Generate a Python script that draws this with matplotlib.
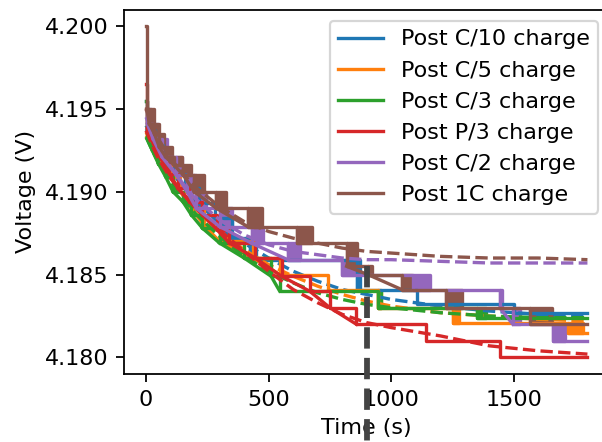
import numpy as np
import matplotlib.pyplot as plt
from matplotlib.ticker import FormatStrFormatter

# rest-period voltage after each charge rate
# step data: time a new voltage level starts (s), the level (V), toggle width (s)
t_end = 1800

c10_t = [0, 4, 35, 70, 110, 160, 215, 280, 350, 422, 862, 1103, 1500]
c10_v = [4.1955, 4.1937, 4.1928, 4.1920, 4.1911, 4.1902, 4.1893, 4.1884,
         4.1872, 4.1859, 4.1841, 4.1832, 4.1827]
c10_w = [0, 0, 0, 0, 0, 0, 0, 0, 0, 28, 10, 0, 0]

c5_t = [0, 4, 30, 60, 100, 140, 185, 235, 300, 435, 545, 742, 945, 1250, 1720]
c5_v = [4.1950, 4.1933, 4.1925, 4.1917, 4.1909, 4.1900, 4.1890, 4.1880,
        4.1870, 4.1860, 4.1850, 4.1841, 4.1830, 4.1821, 4.1815]
c5_w = [0, 0, 0, 0, 0, 0, 0, 0, 0, 0, 0, 0, 15, 25, 60]

c3_t = [0, 4, 25, 50, 80, 110, 150, 185, 230, 300, 400, 510, 545, 945, 1348]
c3_v = [4.1955, 4.1932, 4.1925, 4.1917, 4.1909, 4.1900, 4.1894, 4.1886,
        4.1878, 4.1869, 4.1860, 4.1849, 4.1840, 4.1830, 4.1824]
c3_w = [0, 0, 0, 0, 0, 0, 0, 0, 0, 0, 0, 0, 0, 15, 40]

p3_t = [0, 5, 30, 60, 95, 130, 177, 230, 290, 340, 445, 553, 667, 750, 858,
        1143, 1442]
p3_v = [4.1965, 4.1938, 4.1929, 4.1920, 4.1911, 4.1902, 4.1894, 4.1886,
        4.1877, 4.1869, 4.1860, 4.1849, 4.1840, 4.1830, 4.1820, 4.1810, 4.1800]
p3_w = [0] * 17

c2_t = [0, 5, 28, 65, 124, 168, 205, 300, 430, 578, 798, 1088, 1442, 1496, 1660]
c2_v = [4.1950, 4.1941, 4.1932, 4.1921, 4.1910, 4.1900, 4.1890, 4.1879,
        4.1869, 4.1859, 4.1850, 4.1841, 4.1830, 4.1820, 4.1810]
c2_w = [0, 15, 20, 20, 24, 37, 40, 50, 45, 48, 52, 69, 8, 29, 47]

c1_t = [0, 3, 13, 34, 54, 80, 115, 152, 197, 287, 414, 614, 818, 905, 1042,
        1225, 1565]
c1_v = [4.2000, 4.1950, 4.1941, 4.1935, 4.1927, 4.1921, 4.1916, 4.1910,
        4.1900, 4.1890, 4.1879, 4.1869, 4.1855, 4.1850, 4.1841, 4.1830, 4.1820]
c1_w = [0, 0, 20, 20, 20, 25, 30, 30, 40, 41, 57, 61, 41, 15, 41, 62, 89]

# fitted relaxation curves
fit_t = [0, 25, 50, 100, 150, 200, 300, 400, 500, 600, 700, 800, 900, 1000,
         1200, 1400, 1600, 1800]
c10_fit = [4.1940, 4.1932, 4.1925, 4.1913, 4.1903, 4.1895, 4.1881, 4.1869,
           4.1860, 4.1852, 4.1846, 4.1841, 4.1838, 4.1835, 4.1831, 4.1828,
           4.1826, 4.1825]
c5_fit = [4.1936, 4.1928, 4.1921, 4.1909, 4.1899, 4.1890, 4.1876, 4.1865,
          4.1856, 4.1849, 4.1843, 4.1838, 4.1834, 4.1831, 4.1827, 4.1825,
          4.1823, 4.1822]
c3_fit = [4.1933, 4.1925, 4.1918, 4.1906, 4.1896, 4.1887, 4.1873, 4.1861,
          4.1852, 4.1845, 4.1839, 4.1835, 4.1832, 4.1830, 4.1827, 4.1825,
          4.1824, 4.1824]
p3_fit = [4.1937, 4.1928, 4.1920, 4.1908, 4.1899, 4.1892, 4.1877, 4.1864,
          4.1852, 4.1841, 4.1833, 4.1826, 4.1821, 4.1818, 4.1813, 4.1807,
          4.1804, 4.1802]
c2_fit = [4.1945, 4.1936, 4.1928, 4.1915, 4.1905, 4.1896, 4.1883, 4.1874,
          4.1868, 4.1864, 4.1862, 4.1860, 4.1859, 4.1859, 4.1858, 4.1857,
          4.1857, 4.1857]
c1_fit = [4.1950, 4.1941, 4.1932, 4.1920, 4.1911, 4.1903, 4.1891, 4.1882,
          4.1876, 4.1872, 4.1869, 4.1866, 4.1864, 4.1863, 4.1861, 4.1860,
          4.1860, 4.1859]

labels = ['Post C/10 charge', 'Post C/5 charge', 'Post C/3 charge',
          'Post P/3 charge', 'Post C/2 charge', 'Post 1C charge']
runs = [(c10_t, c10_v, c10_w, c10_fit), (c5_t, c5_v, c5_w, c5_fit),
        (c3_t, c3_v, c3_w, c3_fit), (p3_t, p3_v, p3_w, p3_fit),
        (c2_t, c2_v, c2_w, c2_fit), (c1_t, c1_v, c1_w, c1_fit)]

rest_time = 900

fig = plt.figure(figsize=(602 / 160, 442 / 160), dpi=160)
ax = fig.add_axes([124 / 602, 68 / 442, 485.5 / 602, 364.5 / 442])

for i, (lab, (t, v, w, fit)) in enumerate(zip(labels, runs)):
    col = 'C%d' % i
    tt = np.append(t, t_end)
    vv = np.append(v, v[-1])
    ax.plot(tt, vv, drawstyle='steps-post', color=col, label=lab)
    # short logging gaps are joined straight as well
    for k in range(1, len(t) - 1):
        if t[k + 1] - t[k] <= 150:
            ax.plot(t[k:k + 2], v[k:k + 2], color=col)
    # voltage flicking between two levels shows as a filled block
    for k in range(1, len(t)):
        if w[k] > 0:
            ax.fill_between([t[k], t[k] + w[k]], v[k - 1], v[k], color=col,
                            lw=1.5, edgecolor=col)
    ax.plot(fit_t, fit, '--', color=col)

ax.plot([rest_time, rest_time], [4.1855, 4.1745], '--', color='#444444',
        lw=2.6, clip_on=False, zorder=5)

ax.set_xlim(-90, 1890)
ax.set_ylim(4.179, 4.201)
ax.yaxis.set_major_formatter(FormatStrFormatter('%.3f'))
ax.set_xlabel('Time (s)')
ax.set_ylabel('Voltage (V)')
ax.legend(loc='upper right')

fig.savefig('out.png', dpi=160)
